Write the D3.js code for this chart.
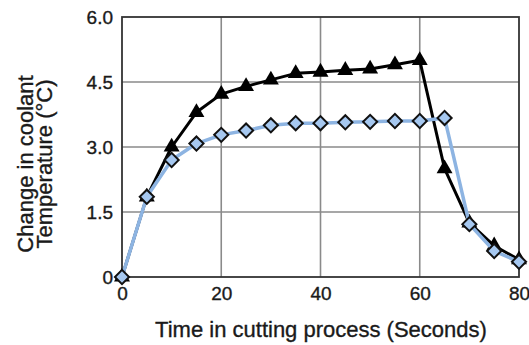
<!DOCTYPE html>
<html>
<head>
<meta charset="utf-8">
<script src="https://cdn.jsdelivr.net/npm/d3@7"></script>
<style>
  html, body { margin: 0; padding: 0; background: #fff; }
  svg { display: block; font-family: "Liberation Sans", Arial, sans-serif; }
  .lbl { fill: #1a1a1a; stroke: #1a1a1a; stroke-width: 0.35px; }
</style>
</head>
<body>
<svg id="chart" width="529" height="345"></svg>
<script>
// Time stamps (s) and coolant temperature change (°C) for the two runs
const times = [0, 5, 10, 15, 20, 25, 30, 35, 40, 45, 50, 55, 60, 65, 70, 75, 80];
const runA = [0, 1.85, 3.0, 3.8, 4.22, 4.4, 4.55, 4.7, 4.73, 4.77, 4.8, 4.9, 5.0, 2.5, 1.25, 0.72, 0.4];
const timesB = [0, 5, 10, 15, 20, 25, 30, 35, 40, 45, 50, 55, 60, 65, 70, 75, 80];
const runB = [0, 1.85, 2.7, 3.08, 3.28, 3.38, 3.5, 3.55, 3.55, 3.57, 3.58, 3.6, 3.6, 3.67, 1.22, 0.6, 0.35];
const xTicks = [0, 20, 40, 60, 80];
const yTicks = [0, 1.5, 3.0, 4.5, 6.0];
const yTickLabels = ["0", "1.5", "3.0", "4.5", "6.0"];

const svg = d3.select("#chart");
const m = { left: 122, right: 519, top: 17, bottom: 277 };

const x = d3.scaleLinear().domain([0, 80]).range([m.left, m.right]);
const y = d3.scaleLinear().domain([0, 6]).range([m.bottom, m.top]);

// grid
const grid = svg.append("g");
grid.selectAll("line.h").data(yTicks.slice(1, -1)).join("line")
  .attr("x1", m.left).attr("x2", m.right)
  .attr("y1", d => y(d)).attr("y2", d => y(d))
  .attr("stroke", "#8a8a8a").attr("stroke-width", 1.6);
grid.selectAll("line.v").data(xTicks.slice(1, -1)).join("line")
  .attr("y1", m.top).attr("y2", m.bottom)
  .attr("x1", d => x(d)).attr("x2", d => x(d))
  .attr("stroke", "#8a8a8a").attr("stroke-width", 1.6);

// plot frame
svg.append("rect")
  .attr("x", m.left).attr("y", m.top)
  .attr("width", m.right - m.left).attr("height", m.bottom - m.top)
  .attr("fill", "none").attr("stroke", "#333").attr("stroke-width", 1.8);

// axes (labels only)
const yAxis = d3.axisLeft(y).tickValues(yTicks).tickSize(0).tickPadding(9)
  .tickFormat((d, i) => yTickLabels[i]);
const gy = svg.append("g").attr("transform", `translate(${m.left},0)`).call(yAxis);
gy.select(".domain").remove();
gy.selectAll("text").attr("class", "lbl").attr("font-size", 19)
  .attr("font-family", "Liberation Sans, Arial, sans-serif");

const xAxis = d3.axisBottom(x).tickValues(xTicks).tickSize(0).tickPadding(10)
  .tickFormat(d3.format("d"));
const gx = svg.append("g").attr("transform", `translate(0,${m.bottom})`).call(xAxis);
gx.select(".domain").remove();
gx.selectAll("text").attr("class", "lbl").attr("font-size", 19)
  .attr("font-family", "Liberation Sans, Arial, sans-serif");

// axis titles
svg.append("text").attr("class", "lbl")
  .attr("x", 321).attr("y", 337)
  .attr("text-anchor", "middle").attr("font-size", 22)
  .text("Time in cutting process (Seconds)");

const yt = svg.append("text").attr("class", "lbl")
  .attr("transform", "translate(0,164) rotate(-90)")
  .attr("text-anchor", "middle").attr("font-size", 22);
yt.append("tspan").attr("x", 0).attr("y", 33).text("Change in coolant");
yt.append("tspan").attr("x", 0).attr("y", 52).text("Temperature (°C)");

const line = d3.line();

const ptsA = times.map((t, i) => [x(t), y(runA[i])]);
const ptsB = timesB.map((t, i) => [x(t), y(runB[i])]);

// run A: black line with triangles
svg.append("path").attr("d", line(ptsA))
  .attr("fill", "none").attr("stroke", "#000").attr("stroke-width", 3)
  .attr("stroke-linejoin", "round");
const tri = d3.symbol().type(d3.symbolTriangle).size(110);
svg.selectAll("path.tri").data(ptsA).join("path")
  .attr("class", "tri")
  .attr("d", tri)
  .attr("transform", d => `translate(${d[0]},${d[1]})`)
  .attr("fill", "#000");

// run B: light blue line with diamonds
svg.append("path").attr("d", line(ptsB))
  .attr("fill", "none").attr("stroke", "#8db4e2").attr("stroke-width", 3.5)
  .attr("stroke-linejoin", "round");
svg.selectAll("rect.dia").data(ptsB).join("rect")
  .attr("class", "dia")
  .attr("x", -5).attr("y", -5).attr("width", 10).attr("height", 10)
  .attr("transform", d => `translate(${d[0]},${d[1]}) rotate(45)`)
  .attr("fill", "#a6c8f0").attr("stroke", "#111").attr("stroke-width", 2);
</script>
</body>
</html>
